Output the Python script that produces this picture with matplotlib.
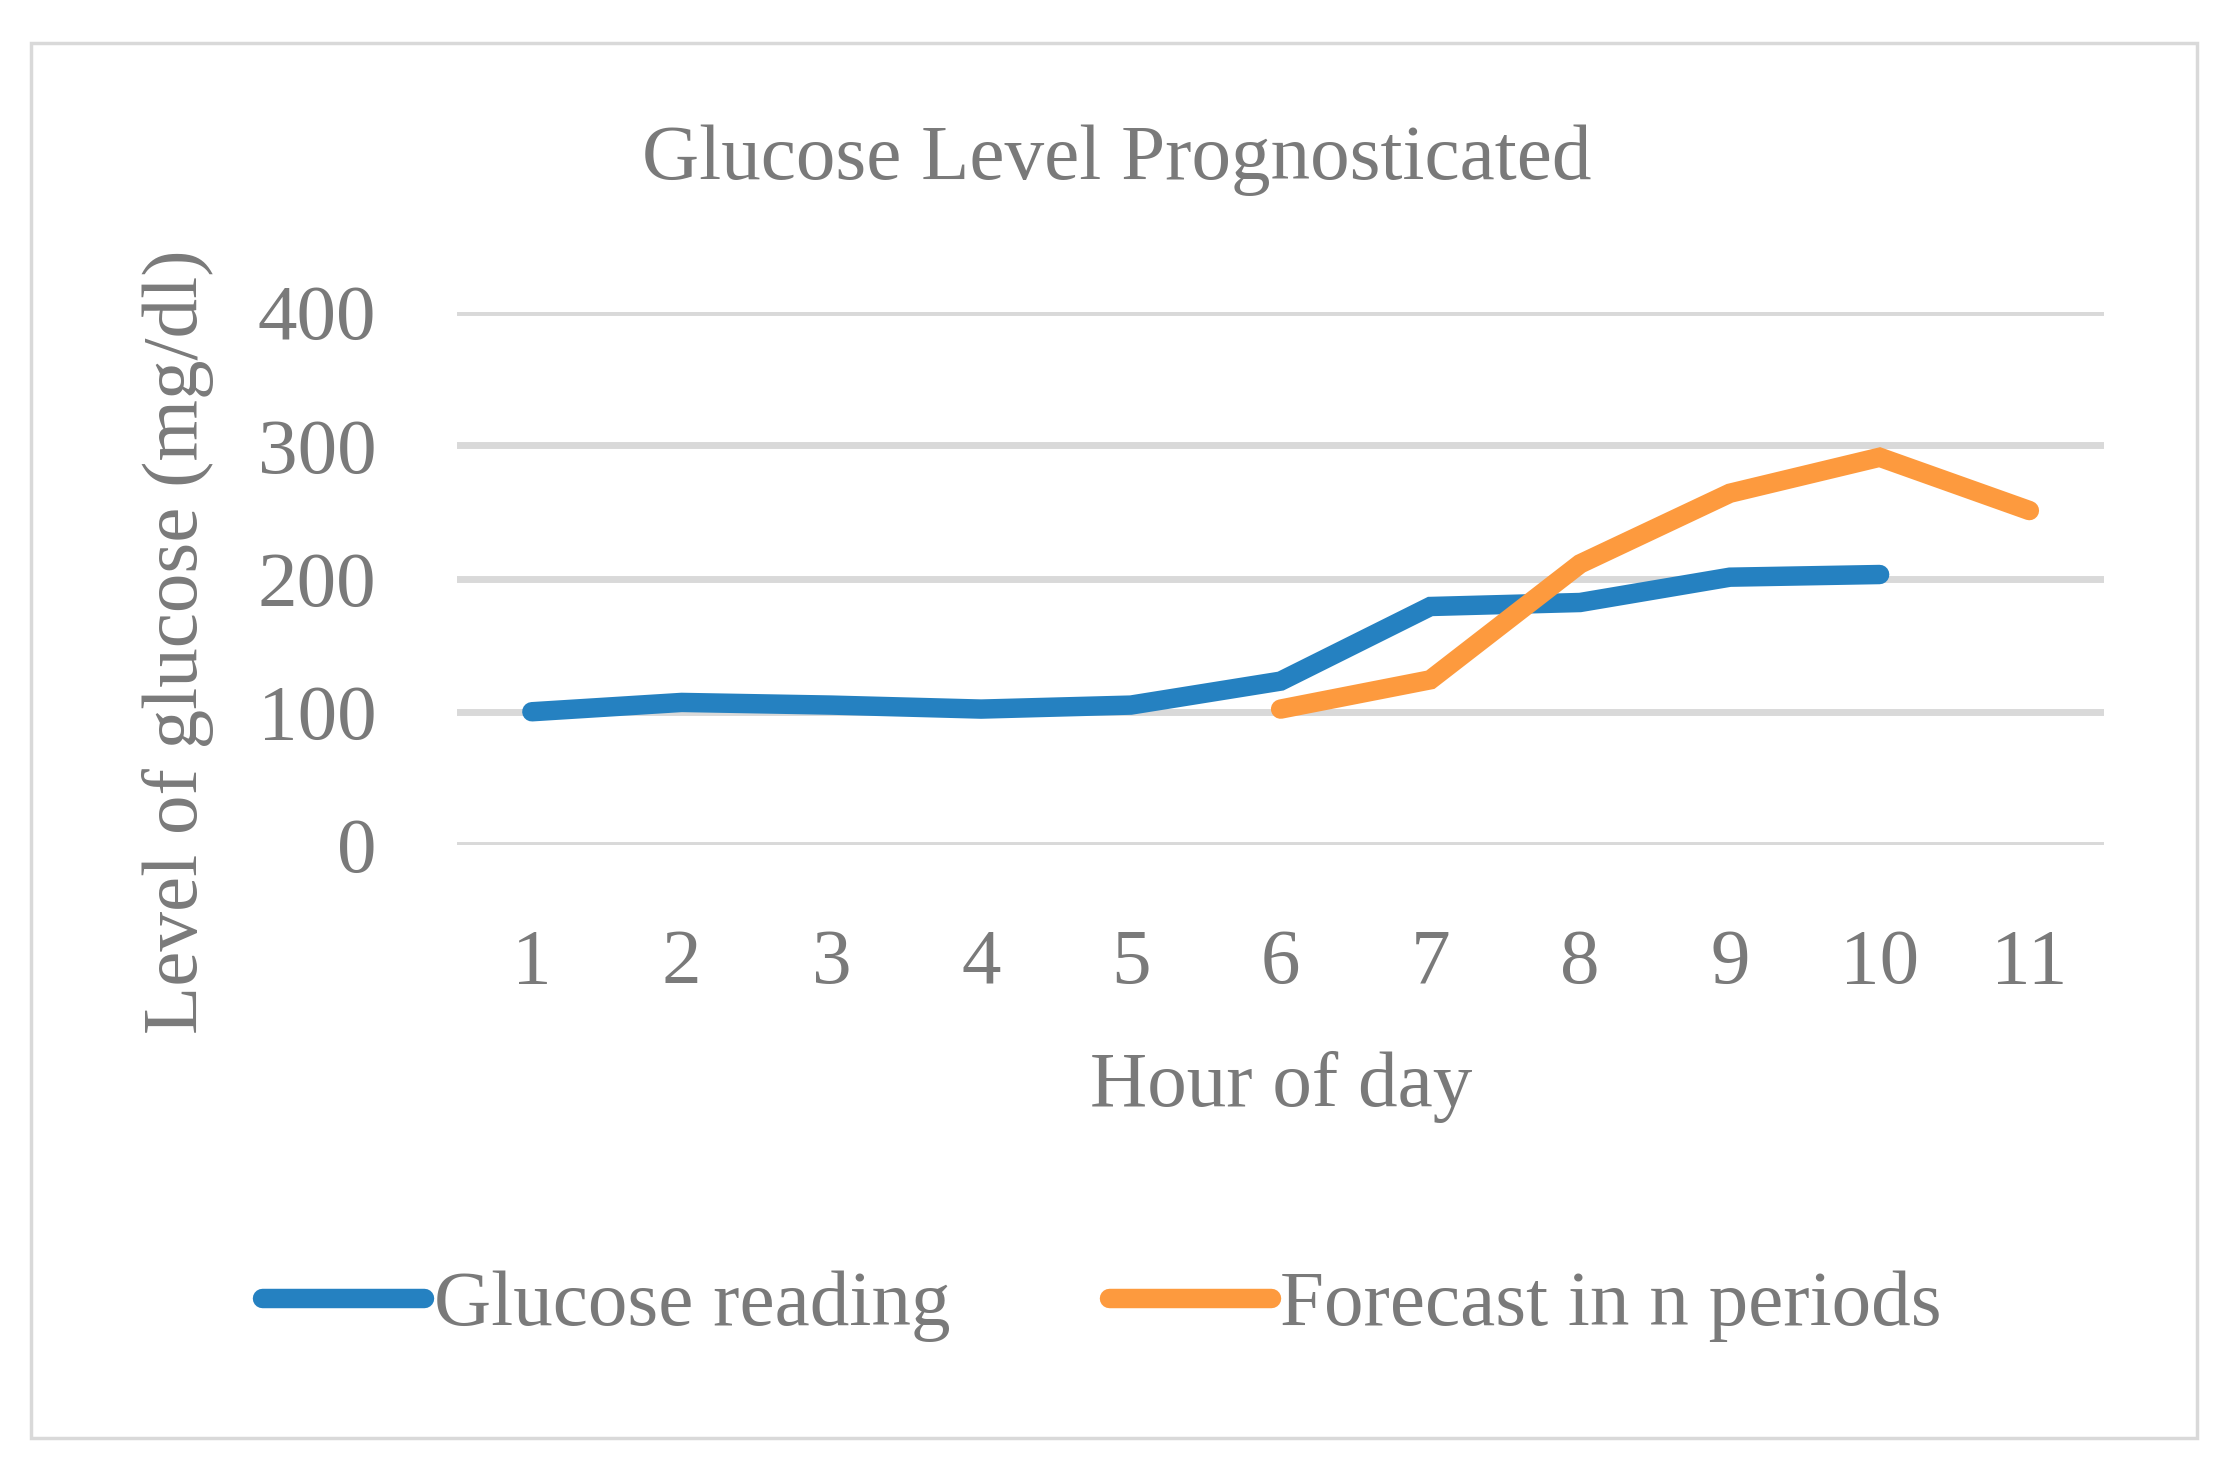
import matplotlib
matplotlib.use('Agg')
import matplotlib.pyplot as plt
from matplotlib.patches import Rectangle

# data
hours = [1, 2, 3, 4, 5, 6, 7, 8, 9, 10, 11]
glucose_hours = [1, 2, 3, 4, 5, 6, 7, 8, 9, 10]
glucose_reading = [100, 107, 105, 102, 105, 123, 179, 182, 201, 203]
forecast_hours = [6, 7, 8, 9, 10, 11]
forecast = [102, 124, 211, 264, 291, 251]
y_ticks = [0, 100, 200, 300, 400]

gray = '#7a7a7a'
blue = '#2581c1'
orange = '#fd9a3e'
fs = 57

plt.rcParams['font.family'] = ['Liberation Serif', 'DejaVu Serif']

fig = plt.figure(figsize=(22.26, 14.67), dpi=100)
ax = fig.add_axes([0.2053, 0.424, 0.7400, 0.3633])

for t in y_ticks:
    ax.axhline(t, color='#d9d9d9', lw=5, zorder=0)

ax.plot(glucose_hours, glucose_reading, color=blue, lw=14,
        solid_capstyle='round', solid_joinstyle='miter',
        label='Glucose reading')
ax.plot(forecast_hours, forecast, color=orange, lw=14,
        solid_capstyle='round', solid_joinstyle='miter',
        label='Forecast in n periods')

ax.set_xlim(0.5, 11.5)
ax.set_ylim(0, 400)
ax.set_xticks(hours)
ax.set_yticks(y_ticks)
ax.tick_params(axis='both', length=0, labelsize=fs, labelcolor=gray)
ax.tick_params(axis='y', pad=58)
ax.tick_params(axis='x', pad=60)
for s in ax.spines.values():
    s.set_visible(False)

fig.text(1117 / 2226, 1 - 160 / 1467, 'Glucose Level Prognosticated',
         ha='center', va='center', fontsize=fs, color=gray)
fig.text(178 / 2226, 1 - 642 / 1467, 'Level of glucose (mg/dl)',
         ha='center', va='center', rotation=90, fontsize=fs, color=gray)
fig.text(1281 / 2226, 1 - 1087 / 1467, 'Hour of day',
         ha='center', va='center', fontsize=fs, color=gray)

handles, labels = ax.get_legend_handles_labels()
leg = fig.legend(handles, labels, loc='center left',
                 bbox_to_anchor=(262 / 2226, 1 - 1306 / 1467), ncol=2,
                 frameon=False, fontsize=fs, handlelength=2.05,
                 handletextpad=0.12, columnspacing=2.0,
                 borderpad=0, borderaxespad=0)
for t in leg.get_texts():
    t.set_color(gray)

fig.patches.append(Rectangle((31 / 2226, 29 / 1467), 2166 / 2226, 1395 / 1467,
                             transform=fig.transFigure, fill=False,
                             edgecolor='#d9d9d9', lw=2.5))

fig.savefig('out.png', dpi=100, facecolor='white')
